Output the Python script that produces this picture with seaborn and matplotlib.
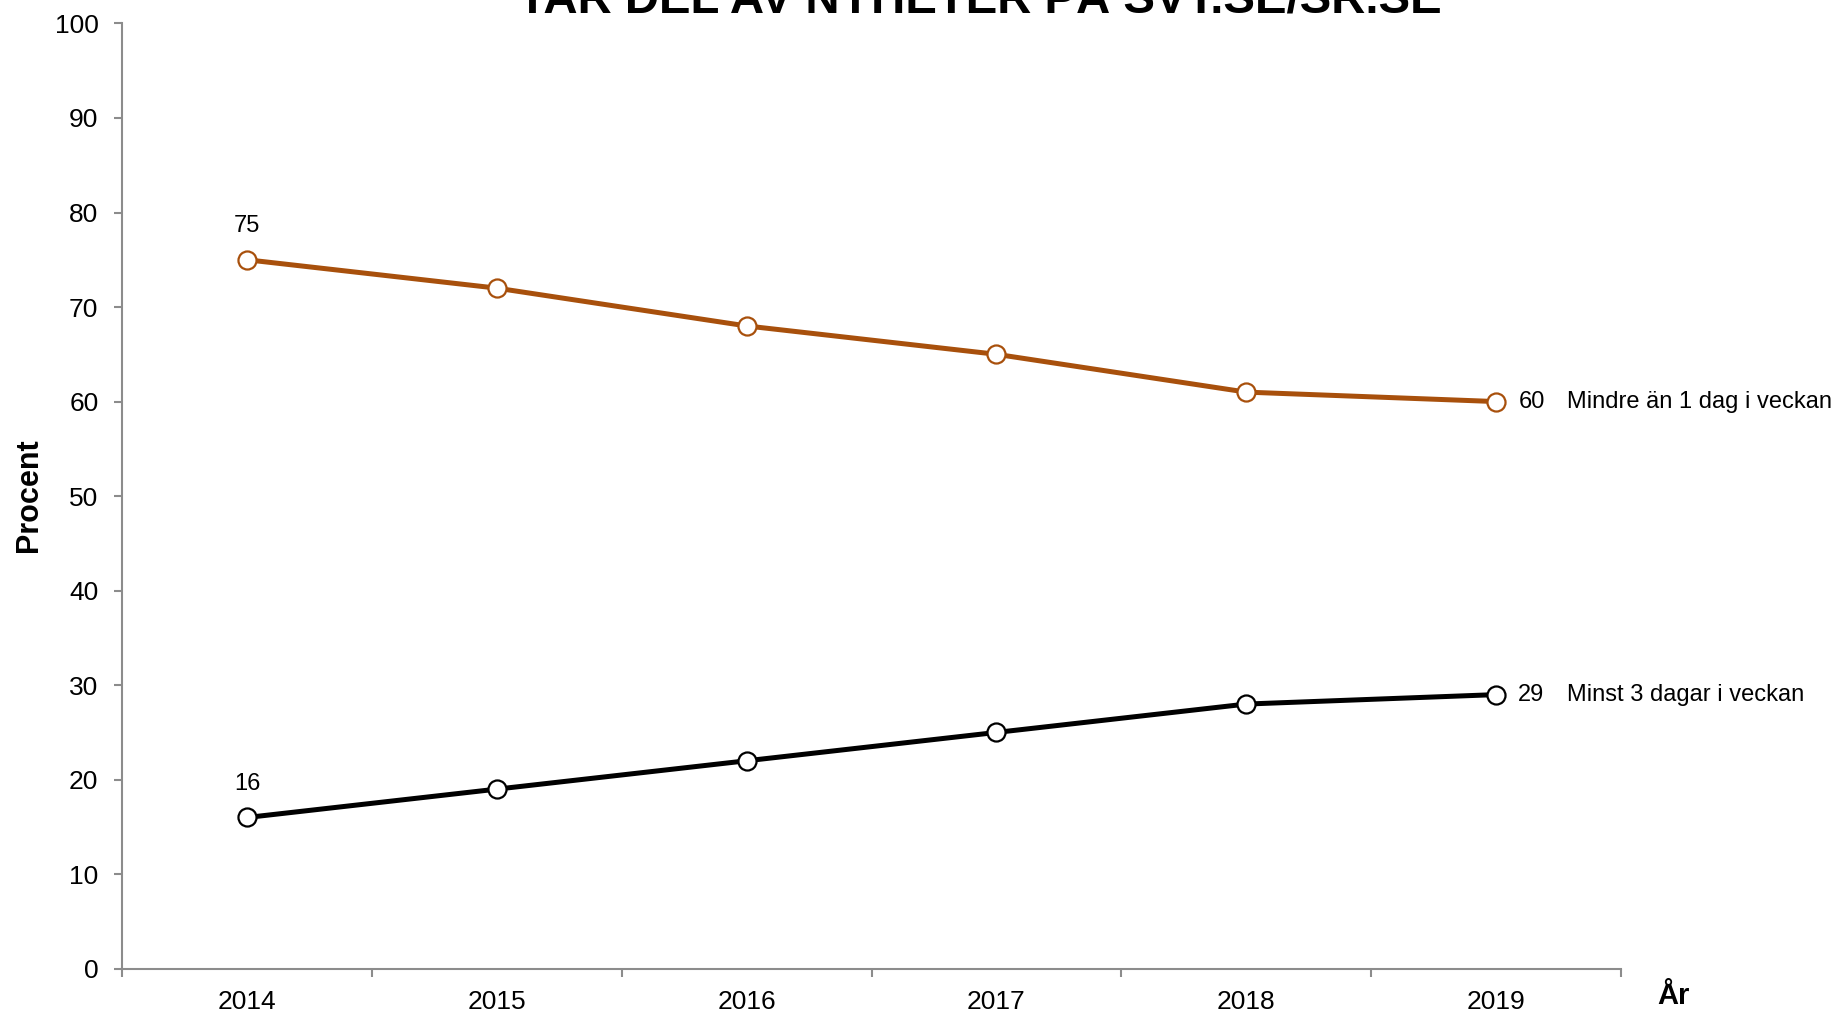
import numpy as np
import pandas as pd
import matplotlib
matplotlib.use("Agg")
import matplotlib.pyplot as plt
import seaborn as sns
from matplotlib import font_manager

# Data
years = ["2014", "2015", "2016", "2017", "2018", "2019"]
mindre = [75, 72, 68, 65, 61, 60]
minst = [16, 19, 22, 25, 28, 29]
label_mindre = "Mindre än 1 dag i veckan"
label_minst = "Minst 3 dagar i veckan"
title = "TAR DEL AV NYHETER PÅ SVT.SE/SR.SE"

sns.set_theme(style="white")
plt.rcParams['font.family'] = ['Liberation Sans', 'DejaVu Sans']
plt.rcParams['text.color'] = 'black'

names = {f.name for f in font_manager.fontManager.ttflist}
title_font = 'Liberation Sans Narrow' if 'Liberation Sans Narrow' in names else 'Liberation Sans'

orange = "#A8500C"
grey = "#8C8C8C"

df = pd.DataFrame({"x": np.arange(len(years)), "mindre": mindre, "minst": minst})

fig = plt.figure(figsize=(18.41, 10.11), dpi=100)
ax = fig.add_axes([0.0663, 0.0418, 0.8142, 0.935])

for col, color in [("mindre", orange), ("minst", "black")]:
    sns.lineplot(data=df, x="x", y=col, ax=ax, color=color, linewidth=3.6,
                 marker="o", markersize=13, markerfacecolor="white",
                 markeredgecolor=color, markeredgewidth=1.6)

ax.set_xlim(-0.5, len(years) - 0.5)
ax.set_ylim(0, 100)
ax.set_yticks(range(0, 101, 10))
ax.set_xticks(range(len(years)))
ax.set_xticklabels(years)
ax.set_xticks(np.arange(-0.5, len(years), 1), minor=True)
ax.tick_params(axis='x', which='major', length=0, pad=15, labelsize=19, labelcolor='black')
ax.tick_params(axis='x', which='minor', length=6, width=1.5, color=grey, direction='out', bottom=True)
ax.tick_params(axis='y', length=6, width=1.5, color=grey, direction='out', left=True, pad=11,
               labelsize=19, labelcolor='black')

for s in ['top', 'right']:
    ax.spines[s].set_visible(False)
for s in ['left', 'bottom']:
    ax.spines[s].set_color(grey)
    ax.spines[s].set_linewidth(1.5)

ax.set_xlabel("")
ax.set_ylabel("")
fig.text(29 / 1841, 1 - 495 / 1011, "Procent", rotation=90, ha='center', va='center',
         fontsize=22, fontweight='bold', color='black')

# Data labels
for vals in [mindre, minst]:
    ax.annotate(str(vals[0]), (0, vals[0]), xytext=(0, 24), textcoords='offset points',
                ha='center', va='center', fontsize=17, color='black')
for vals, lab in [(mindre, label_mindre), (minst, label_minst)]:
    ax.annotate(str(vals[-1]), (len(years) - 1, vals[-1]), xytext=(16, 0), textcoords='offset points',
                ha='left', va='center', fontsize=17, color='black', annotation_clip=False)
    ax.annotate(lab, (len(years) - 1, vals[-1]), xytext=(51, 0), textcoords='offset points',
                ha='left', va='center', fontsize=17, color='black', annotation_clip=False)

fig.text(0.909, 0.015, "År", ha='center', va='center', fontsize=21, fontweight='bold', color='black')

t = fig.text(0.532, 0.987, title, ha='center', va='baseline', fontsize=34,
             fontweight='bold', family=title_font, color='black')
fig.canvas.draw()
w = t.get_window_extent().width
t.set_fontsize(34 * 926 / w)

fig.savefig("out.png", dpi=100)
